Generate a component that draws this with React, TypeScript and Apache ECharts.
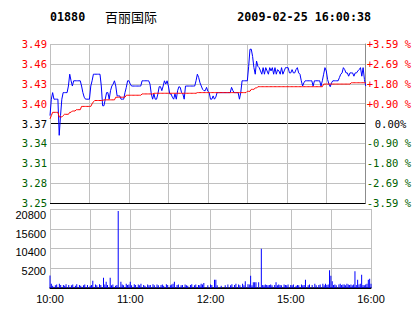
import React, { useEffect, useRef } from "react";
import * as echarts from "echarts";

const STOCK_CODE = "01880";
const STOCK_NAME = "百丽国际";
const TIMESTAMP = "2009-02-25 16:00:38";

const PRE_CLOSE = 3.37;
const RANGE_PCT = 3.59;

const PRICE_LABELS = ["3.25", "3.28", "3.31", "3.34", "3.37", "3.40", "3.43", "3.46", "3.49"];
const PCT_LABELS = ["-3.59 %", "-2.69 %", "-1.80 %", "-0.90 %", "0.00%", "+0.90 %", "+1.80 %", "+2.69 %", "+3.59 %"];
const VOL_LABELS = ["", "5200", "10400", "15600", "20800"];
const TIME_LABELS = ["10:00", "", "11:00", "", "12:00", "", "15:00", "", "16:00"];

// minute-by-minute last price (10:00 .. 12:30, 14:30 .. 16:00)
const PRICE = [
  3.382, 3.407, 3.417, 3.407, 3.407, 3.407, 3.407, 3.352, 3.382, 3.407,
  3.417, 3.417, 3.417, 3.417, 3.427, 3.445, 3.435, 3.427, 3.435, 3.435,
  3.435, 3.435, 3.435, 3.435, 3.427, 3.417, 3.410, 3.407, 3.407, 3.407,
  3.407, 3.427, 3.435, 3.445, 3.445, 3.445, 3.445, 3.445, 3.445, 3.427,
  3.397, 3.397, 3.407, 3.417, 3.417, 3.407, 3.420, 3.427, 3.430, 3.435,
  3.427, 3.412, 3.412, 3.412, 3.407, 3.407, 3.407, 3.417, 3.425, 3.435,
  3.435, 3.430, 3.427, 3.427, 3.427, 3.427, 3.427, 3.427, 3.427, 3.427,
  3.435, 3.435, 3.435, 3.435, 3.435, 3.435, 3.430, 3.415, 3.407, 3.415,
  3.407, 3.407, 3.415, 3.426, 3.426, 3.420, 3.427, 3.435, 3.430, 3.435,
  3.427, 3.415, 3.415, 3.410, 3.407, 3.415, 3.407, 3.420, 3.426, 3.425,
  3.417, 3.415, 3.407, 3.427, 3.427, 3.427, 3.427, 3.427, 3.427, 3.427,
  3.427, 3.435, 3.445, 3.440, 3.432, 3.427, 3.422, 3.420, 3.420, 3.425,
  3.419, 3.417, 3.407, 3.407, 3.412, 3.407, 3.410, 3.417, 3.417, 3.417,
  3.417, 3.417, 3.417, 3.417, 3.417, 3.417, 3.417, 3.417, 3.425, 3.420,
  3.417, 3.417, 3.417, 3.417, 3.407, 3.417, 3.435, 3.435, 3.435, 3.435,
  3.435, 3.457, 3.483, 3.483, 3.472, 3.455, 3.445, 3.465, 3.457, 3.455,
  3.450, 3.445, 3.455, 3.445, 3.455, 3.450, 3.445, 3.455, 3.450, 3.455,
  3.445, 3.455, 3.445, 3.452, 3.450, 3.445, 3.455, 3.445, 3.450, 3.455,
  3.455, 3.455, 3.447, 3.447, 3.452, 3.447, 3.447, 3.452, 3.455, 3.447,
  3.445, 3.435, 3.427, 3.432, 3.435, 3.435, 3.435, 3.435, 3.435, 3.435,
  3.427, 3.435, 3.435, 3.435, 3.435, 3.435, 3.427, 3.435, 3.445, 3.455,
  3.450, 3.437, 3.430, 3.426, 3.432, 3.435, 3.435, 3.435, 3.435, 3.435,
  3.440, 3.445, 3.447, 3.455, 3.452, 3.447, 3.447, 3.442, 3.447, 3.447,
  3.447, 3.442, 3.447, 3.447, 3.450, 3.452, 3.455, 3.442, 3.455, 3.437,
  3.427,
];

// running average price
const AVG_PRICE = [
  3.377, 3.382, 3.387, 3.387, 3.387, 3.387, 3.387, 3.380, 3.380, 3.380,
  3.382, 3.384, 3.384, 3.384, 3.384, 3.387, 3.387, 3.389, 3.389, 3.389,
  3.391, 3.391, 3.391, 3.391, 3.396, 3.396, 3.396, 3.396, 3.396, 3.396,
  3.396, 3.396, 3.400, 3.403, 3.405, 3.405, 3.405, 3.405, 3.405, 3.405,
  3.405, 3.406, 3.406, 3.406, 3.406, 3.406, 3.406, 3.406, 3.406, 3.406,
  3.410, 3.410, 3.410, 3.410, 3.410, 3.410, 3.410, 3.410, 3.413, 3.413,
  3.413, 3.413, 3.413, 3.413, 3.413, 3.413, 3.413, 3.413, 3.413, 3.413,
  3.415, 3.415, 3.415, 3.415, 3.415, 3.415, 3.415, 3.415, 3.415, 3.416,
  3.416, 3.416, 3.416, 3.416, 3.416, 3.416, 3.416, 3.416, 3.416, 3.416,
  3.416, 3.416, 3.416, 3.416, 3.416, 3.416, 3.416, 3.416, 3.416, 3.416,
  3.416, 3.416, 3.416, 3.416, 3.416, 3.416, 3.416, 3.416, 3.416, 3.416,
  3.416, 3.416, 3.417, 3.417, 3.417, 3.417, 3.417, 3.417, 3.417, 3.417,
  3.417, 3.417, 3.417, 3.417, 3.417, 3.417, 3.417, 3.417, 3.417, 3.417,
  3.417, 3.417, 3.417, 3.417, 3.417, 3.417, 3.417, 3.417, 3.417, 3.417,
  3.417, 3.417, 3.417, 3.417, 3.417, 3.417, 3.417, 3.417, 3.417, 3.417,
  3.419, 3.419, 3.419, 3.422, 3.422, 3.422, 3.424, 3.424, 3.426, 3.426,
  3.426, 3.426, 3.426, 3.426, 3.426, 3.426, 3.426, 3.426, 3.426, 3.426,
  3.426, 3.426, 3.426, 3.426, 3.426, 3.426, 3.426, 3.426, 3.426, 3.426,
  3.426, 3.426, 3.426, 3.426, 3.426, 3.426, 3.426, 3.426, 3.426, 3.426,
  3.426, 3.426, 3.426, 3.426, 3.426, 3.426, 3.426, 3.426, 3.426, 3.426,
  3.426, 3.426, 3.426, 3.426, 3.426, 3.426, 3.426, 3.426, 3.430, 3.430,
  3.430, 3.430, 3.430, 3.430, 3.430, 3.430, 3.430, 3.430, 3.430, 3.430,
  3.430, 3.430, 3.430, 3.430, 3.430, 3.430, 3.430, 3.430, 3.430, 3.432,
  3.432, 3.432, 3.432, 3.432, 3.432, 3.432, 3.432, 3.432, 3.432, 3.432,
  3.432,
];

// volume per minute (shares)
const VOLUME = [
  3300, 1100, 600, 0, 700, 900, 0, 1100, 800, 0,
  800, 600, 1000, 0, 800, 0, 700, 900, 0, 600,
  1000, 0, 800, 600, 0, 700, 900, 0, 800, 0,
  600, 800, 1930, 0, 900, 700, 0, 1000, 800, 0,
  2720, 900, 1670, 800, 0, 2720, 700, 900, 0, 600,
  800, 20300, 0, 1670, 900, 700, 0, 1100, 800, 900,
  1670, 700, 0, 1000, 800, 0, 900, 700, 1100, 0,
  800, 600, 0, 900, 700, 800, 0, 1000, 700, 0,
  900, 700, 0, 800, 900, 600, 0, 1000, 800, 0,
  700, 900, 1100, 1670, 0, 800, 900, 0, 700, 800,
  0, 900, 700, 600, 0, 800, 1000, 0, 700, 900,
  0, 800, 700, 1100, 900, 1300, 0, 0, 700, 0,
  900, 800, 0, 2190, 2190, 700, 0, 0, 600, 0,
  0, 700, 0, 900, 0, 700, 1000, 0, 800, 1100,
  0, 900, 700, 0, 1100, 700, 1760, 0, 1000, 900,
  3250, 700, 1500, 1500, 1500, 0, 1500, 0, 10360, 800,
  700, 900, 800, 700, 800, 900, 700, 0, 800, 1500,
  700, 900, 800, 700, 0, 900, 800, 700, 900, 0,
  800, 700, 900, 0, 600, 800, 700, 0, 900, 700,
  800, 2190, 0, 700, 900, 0, 800, 0, 1100, 700,
  0, 800, 900, 0, 1100, 700, 1100, 800, 900, 4650,
  3250, 1760, 800, 900, 700, 0, 900, 1100, 800, 900,
  900, 700, 1100, 900, 800, 900, 700, 900, 4390, 800,
  2190, 900, 1100, 3510, 800, 700, 900, 1100, 2190, 2460,
  1100,
];

const STEP = (PRE_CLOSE * RANGE_PCT) / 100 / 4;
const toSteps = (p: number) => (p - PRE_CLOSE) / STEP;

const RED = "#ff0000";
const GREEN = "#006000";
const GRID = "#c0c0c0";
const MONO = "'DejaVu Sans Mono', monospace";
const SANS = "'Liberation Sans', Arial, sans-serif";

const signColor = (v: any) => {
  const n = Number(v);
  if (n > 0.001) return RED;
  if (n < -0.001) return GREEN;
  return "#000000";
};

export default function App() {
  const ref = useRef<HTMLDivElement>(null);

  useEffect(() => {
    if (!ref.current) return;
    const chart = echarts.init(ref.current, null, { renderer: "svg", width: 414, height: 314 });
    const option: any = {
      animation: false,
      backgroundColor: "#ffffff",
      grid: [
        { left: 50, top: 44, width: 321, height: 159 },
        { left: 50, top: 209, width: 321, height: 79 },
        // label-only grid for the volume scale (its labels sit a little below the lines)
        { left: 50, top: 215, width: 321, height: 74 },
      ],
      xAxis: [
        {
          type: "value", gridIndex: 0, min: 0, max: 240, interval: 30,
          axisLine: { show: false }, axisTick: { show: false }, axisLabel: { show: false },
          splitLine: { show: true, lineStyle: { color: GRID, width: 1 } },
        },
        {
          type: "value", gridIndex: 1, min: 0, max: 240, interval: 30,
          axisLine: { show: true, lineStyle: { color: "#000", width: 1.5 } },
          axisTick: { show: false },
          axisLabel: {
            show: true, margin: 5, fontSize: 11, fontFamily: SANS, color: "#000",
            formatter: (v: number) => TIME_LABELS[Math.round(v / 30)] ?? "",
          },
          splitLine: { show: true, lineStyle: { color: GRID, width: 1 } },
        },
        {
          type: "value", gridIndex: 2, min: 0, max: 240, show: false,
        },
      ],
      yAxis: [
        {
          type: "value", gridIndex: 0, position: "left", min: -4, max: 4, interval: 1,
          axisLine: { show: false }, axisTick: { show: false },
          axisLabel: {
            margin: 3, fontSize: 10.5, lineHeight: 9, fontFamily: MONO,
            color: (v: any) => signColor(v),
            formatter: (v: number) => PRICE_LABELS[Math.round(v) + 4] ?? "",
          },
          splitLine: {
            show: true,
            lineStyle: { color: ["#000", GRID, GRID, GRID, "#000", GRID, GRID, GRID, GRID], width: 1 },
          },
        },
        {
          type: "value", gridIndex: 0, position: "right", min: -4, max: 4, interval: 1,
          axisLine: { show: true, lineStyle: { color: "#8c8c8c", width: 1 } },
          axisTick: { show: false },
          axisLabel: {
            margin: 1, fontSize: 10.5, lineHeight: 9, fontFamily: MONO,
            color: (v: any) => signColor(v),
            formatter: (v: number) => {
              const i = Math.round(v) + 4;
              return i === 4 ? `{z|${PCT_LABELS[i]}}` : PCT_LABELS[i] ?? "";
            },
            rich: { z: { fontSize: 10.5, lineHeight: 9, fontFamily: MONO, color: "#000", padding: [0, 0, 0, 8] } },
          },
          splitLine: { show: false },
        },
        {
          type: "value", gridIndex: 1, min: 0, max: 20800, interval: 5200,
          axisLine: { show: false }, axisTick: { show: false },
          axisLabel: { show: false },
          splitLine: {
            show: true,
            lineStyle: { color: ["#000", GRID, GRID, GRID, GRID], width: 1 },
          },
        },
        {
          type: "value", gridIndex: 2, min: 0, max: 20800, interval: 5200,
          axisLine: { show: false }, axisTick: { show: false },
          splitLine: { show: false },
          axisLabel: {
            margin: 4, fontSize: 11, lineHeight: 10, fontFamily: SANS, color: "#000",
            formatter: (v: number) => VOL_LABELS[Math.round(v / 5200)] ?? "",
          },
        },
      ],
      series: [
        {
          type: "line", xAxisIndex: 0, yAxisIndex: 0,
          data: PRICE.map((p, i) => [i, toSteps(p)]),
          showSymbol: false, symbol: "none",
          lineStyle: { color: "#0000ff", width: 1 },
          itemStyle: { color: "#0000ff" },
          z: 3,
        },
        {
          type: "line", xAxisIndex: 0, yAxisIndex: 0,
          data: AVG_PRICE.map((p, i) => [i, toSteps(p)]),
          showSymbol: false, symbol: "none",
          lineStyle: { color: RED, width: 1 },
          itemStyle: { color: RED },
          z: 4,
        },
        {
          type: "bar", xAxisIndex: 1, yAxisIndex: 2,
          data: VOLUME.map((v, i) => [i, v]),
          barWidth: 1,
          itemStyle: { color: "#0000ff" },
        },
      ],
      graphic: [
        {
          type: "text", x: 50, y: 17,
          style: {
            text: STOCK_CODE, font: `bold 11.7px ${MONO}`, fill: "#000",
            textAlign: "left", textVerticalAlign: "middle", align: "left", verticalAlign: "middle",
          },
        },
        {
          type: "text", x: 105, y: 16,
          style: {
            text: STOCK_NAME, font: `13px 'Noto Sans CJK SC'`, fill: "#000",
            textAlign: "left", textVerticalAlign: "middle", align: "left", verticalAlign: "middle",
          },
        },
        {
          type: "text", x: 371, y: 17,
          style: {
            text: TIMESTAMP, font: `bold 11.7px ${MONO}`, fill: "#000",
            textAlign: "right", textVerticalAlign: "middle", align: "right", verticalAlign: "middle",
          },
        },
      ],
    };
    chart.setOption(option);
    return () => chart.dispose();
  }, []);

  return (
    <div
      ref={ref}
      style={{ position: "absolute", left: 0, top: 0, width: 414, height: 314, background: "#fff" }}
    />
  );
}
